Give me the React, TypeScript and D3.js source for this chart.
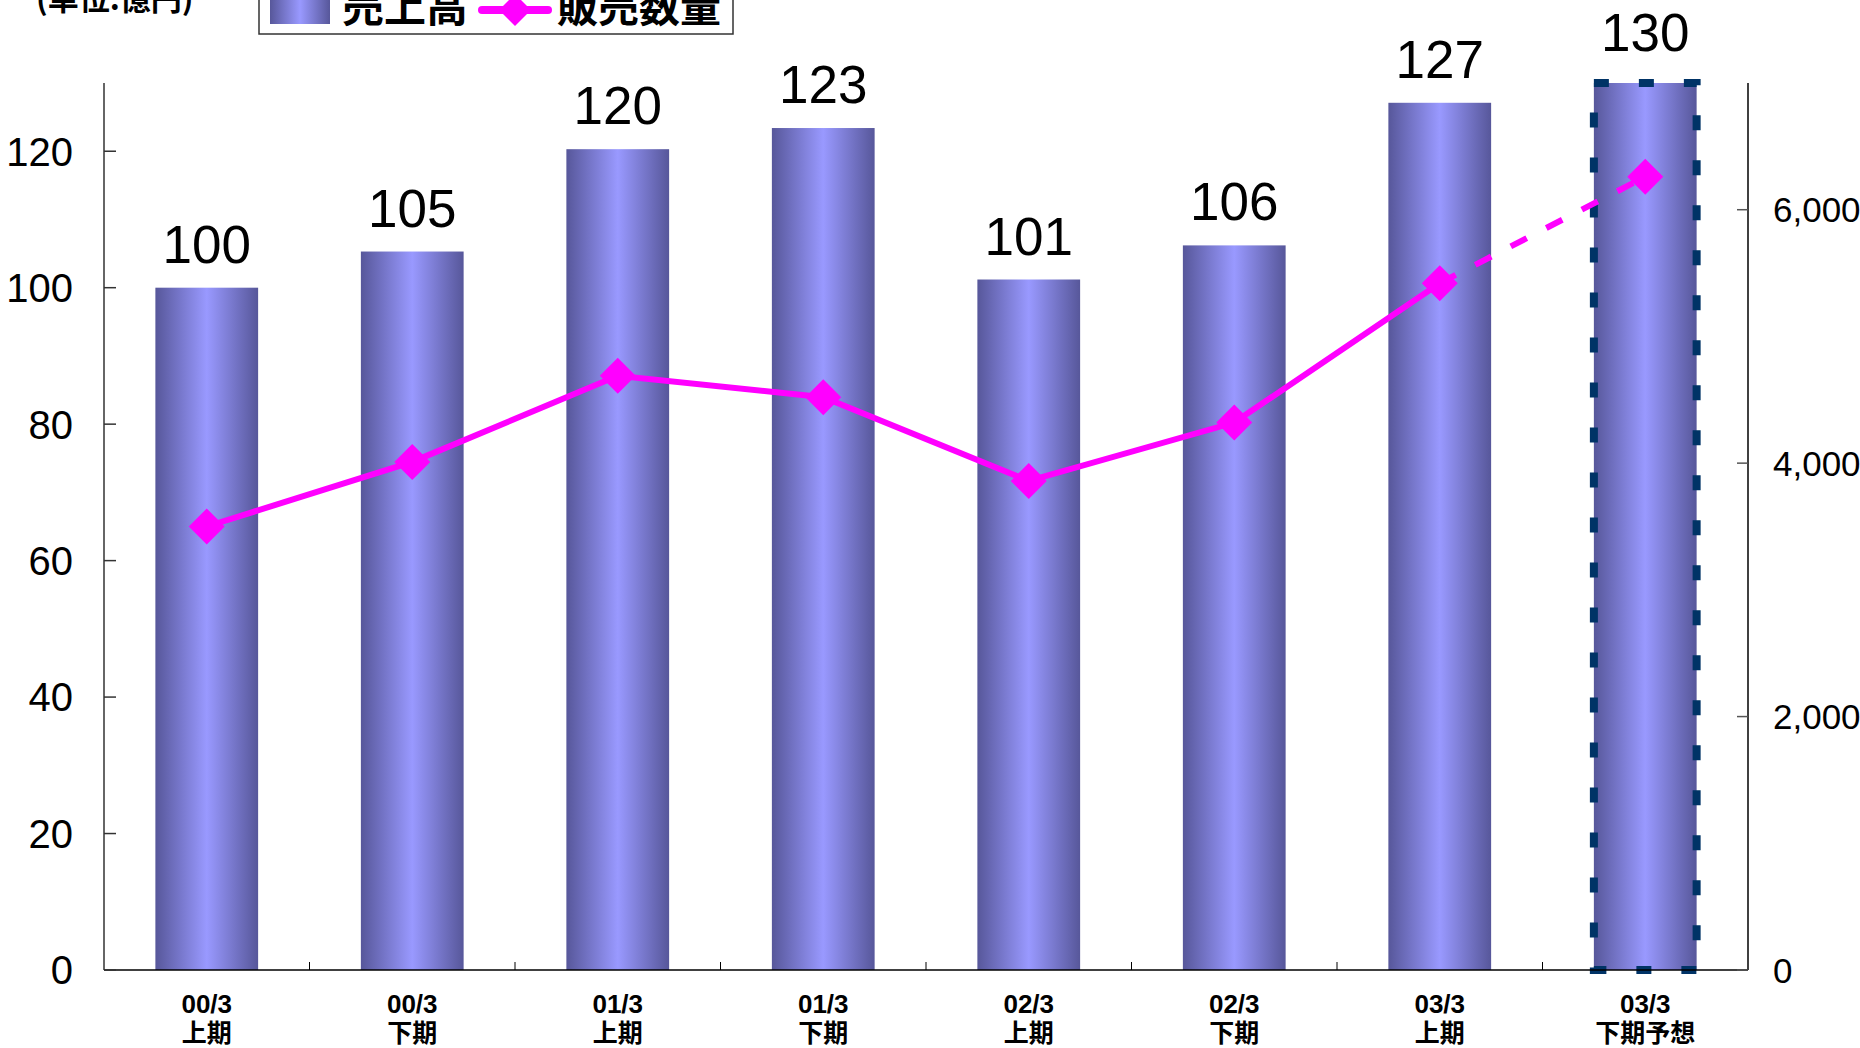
import React from "react";
import * as d3 from "d3";

const periods = ["00/3", "00/3", "01/3", "01/3", "02/3", "02/3", "03/3", "03/3"];
const halves = ["上期", "下期", "上期", "下期", "上期", "下期", "上期", "下期予想"];
const sales = [100, 105.3, 120.3, 123.4, 101.2, 106.2, 127.1, 130];
const quantity = [3500, 4010, 4690, 4520, 3860, 4320, 5420, 6260];
const leftTicks = [0, 20, 40, 60, 80, 100, 120];
const rightTicks = [0, 2000, 4000, 6000];
const unitLabel = "(単位:億円)";
const seriesNames = ["売上高", "販売数量"];

const W = 1860;
const H = 1048;
const M = { left: 104, right: 1748, top: 83, bottom: 970 };
const NUM_FONT = "'Liberation Sans', Arial, sans-serif";
const JP_FONT = "'Liberation Sans', 'Noto Sans CJK JP', sans-serif";

export default function App() {
  const cats = periods.map((p, i) => `${p} ${halves[i]}`);
  const x = d3.scaleBand<string>().domain(cats).range([M.left, M.right]).paddingInner(0.5).paddingOuter(0.25);
  const yL = d3.scaleLinear().domain([0, 130]).range([M.bottom, M.top]);
  const yR = d3.scaleLinear().domain([0, 7000]).range([M.bottom, M.top]);
  const bw = x.bandwidth();
  const cx = (i: number) => (x(cats[i]) as number) + bw / 2;
  const fcIdx = halves.findIndex((h) => h.includes("予想"));
  const fmtInt = d3.format(".0f");
  const fmtComma = d3.format(",");

  const pts: [number, number][] = quantity.map((q, i) => [cx(i), yR(q)]);
  const line = d3.line();
  const solidPts = pts.slice(0, fcIdx);
  const dashPts = pts.slice(fcIdx - 1);

  const boundaries = cats.slice(0, -1).map((c) => (x(c) as number) + bw + (x.step() - bw) / 2);

  const diamond = (px: number, py: number, r: number) =>
    `M${px},${py - r}L${px + r},${py}L${px},${py + r}L${px - r},${py}Z`;

  return (
    <svg width={W} height={H} style={{ position: "absolute", left: 0, top: 0, display: "block" }}>
      <defs>
        <linearGradient id="barGrad" x1="0" x2="1" y1="0" y2="0">
          <stop offset="0%" stopColor="#57579a" />
          <stop offset="50%" stopColor="#9999ff" />
          <stop offset="100%" stopColor="#57579a" />
        </linearGradient>
      </defs>
      <rect x={0} y={0} width={W} height={H} fill="#fff" />

      {/* bars */}
      {sales.map((v, i) => (
        <rect key={i} x={x(cats[i])} y={yL(v)} width={bw} height={yL(0) - yL(v)} fill="url(#barGrad)" />
      ))}
      {/* forecast dashed border */}
      <rect
        x={x(cats[fcIdx])}
        y={yL(sales[fcIdx])}
        width={bw}
        height={yL(0) - yL(sales[fcIdx])}
        fill="none"
        stroke="#003366"
        strokeWidth={8}
        strokeDasharray="15,30"
      />

      {/* value labels */}
      {sales.map((v, i) => (
        <text
          key={i}
          x={cx(i)}
          y={yL(v) - (i === fcIdx ? 32 : 25)}
          textAnchor="middle"
          fontFamily={NUM_FONT}
          fontSize={53}
          fill="#000"
        >
          {fmtInt(v)}
        </text>
      ))}

      {/* axes */}
      <line x1={M.left} x2={M.left} y1={M.top} y2={M.bottom} stroke="#333" strokeWidth={1.5} />
      <line x1={M.right} x2={M.right} y1={M.top} y2={M.bottom} stroke="#000" strokeWidth={1.5} />
      <line x1={M.left} x2={M.right} y1={M.bottom} y2={M.bottom} stroke="#000" strokeWidth={1.5} />
      {leftTicks.map((t) => (
        <g key={t}>
          <line x1={M.left} x2={M.left + 12} y1={yL(t)} y2={yL(t)} stroke="#333" strokeWidth={1.5} />
          <text x={73} y={yL(t)} dy="0.36em" textAnchor="end" fontFamily={NUM_FONT} fontSize={40} fill="#000">
            {t}
          </text>
        </g>
      ))}
      {rightTicks.map((t) => (
        <g key={t}>
          <line x1={M.right - 11} x2={M.right} y1={yR(t)} y2={yR(t)} stroke="#555" strokeWidth={1.5} />
          <text x={1773} y={yR(t)} dy="0.36em" textAnchor="start" fontFamily={NUM_FONT} fontSize={35} fill="#000">
            {fmtComma(t)}
          </text>
        </g>
      ))}
      {boundaries.map((b, i) => (
        <line key={i} x1={b} x2={b} y1={M.bottom} y2={M.bottom - 8} stroke="#000" strokeWidth={1} />
      ))}
      {cats.map((c, i) => (
        <g key={c}>
          <text x={cx(i)} y={1013} textAnchor="middle" fontFamily={JP_FONT} fontWeight="bold" fontSize={26} fill="#000">
            {periods[i]}
          </text>
          <text x={cx(i)} y={1042} textAnchor="middle" fontFamily="'Noto Sans CJK JP', sans-serif" fontWeight="bold" fontSize={25} fill="#000">
            {halves[i]}
          </text>
        </g>
      ))}

      {/* line series */}
      <path d={line(solidPts) as string} fill="none" stroke="#ff00ff" strokeWidth={6} />
      <path d={line(dashPts) as string} fill="none" stroke="#ff00ff" strokeWidth={6} strokeDasharray="18,22" />
      {pts.map((p, i) => (
        <path key={i} d={diamond(p[0], p[1], 18)} fill="#ff00ff" />
      ))}

      {/* unit label */}
      <text x={36} y={10} fontFamily="'Noto Sans CJK JP', sans-serif" fontWeight="bold" fontSize={31} fill="#000">
        {unitLabel}
      </text>

      {/* legend */}
      <rect x={259} y={-10} width={474} height={44} fill="#fff" stroke="#333" strokeWidth={1.5} />
      <rect x={270} y={-10} width={60} height={34} fill="url(#barGrad)" />
      <text x={342} y={22} fontFamily="'Noto Sans CJK JP', sans-serif" fontWeight="bold" fontSize={42} fill="#000">
        {seriesNames[0]}
      </text>
      <line x1={482} x2={548} y1={10} y2={10} stroke="#ff00ff" strokeWidth={8} strokeLinecap="round" />
      <path d={diamond(515, 10, 16)} fill="#ff00ff" />
      <text x={557} y={22} fontFamily="'Noto Sans CJK JP', sans-serif" fontWeight="bold" fontSize={41} fill="#000">
        {seriesNames[1]}
      </text>
    </svg>
  );
}
